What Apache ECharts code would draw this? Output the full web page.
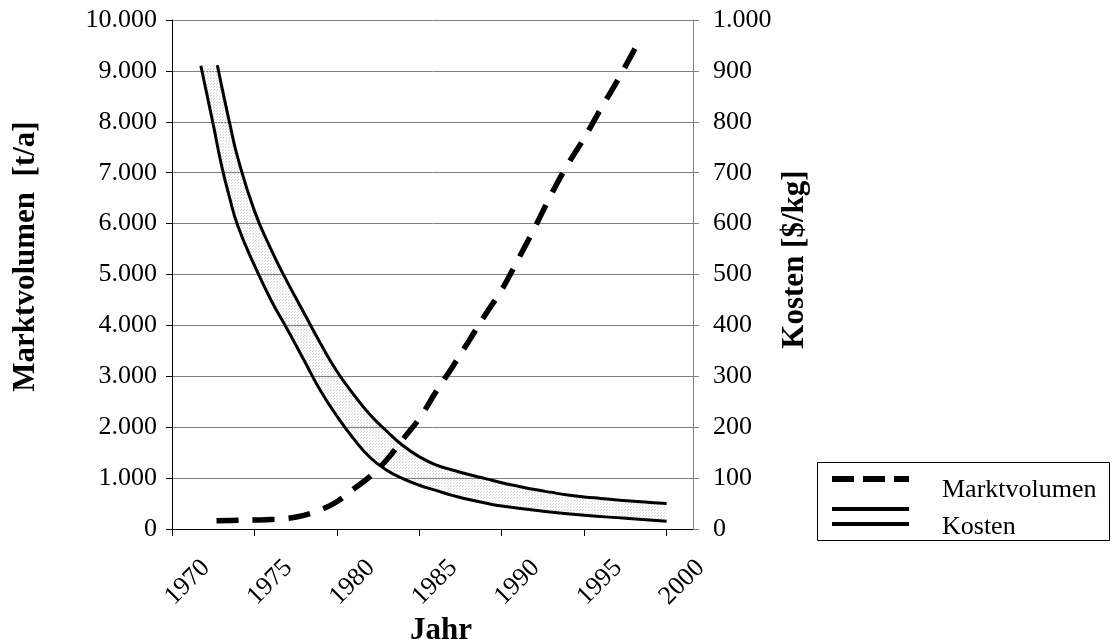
<!DOCTYPE html>
<html><head><meta charset="utf-8">
<script src="https://cdn.jsdelivr.net/npm/echarts@6/dist/echarts.min.js"></script>
<style>html,body{margin:0;padding:0;background:#fff}#c{width:1113px;height:643px}</style>
</head><body><div id="c"></div>
<script>
// ---- data ----
const xTicks = [1970, 1975, 1980, 1985, 1990, 1995, 2000];
const marktvolumen = [[1972.7,160],[1974,170],[1975,177],[1976,186],[1977,208],[1978,268],[1979,375],[1980,536],[1981,780],[1982,1030],[1983,1350],[1984,1760],[1985,2170],[1986,2690],[1987,3180],[1988,3690],[1989,4210],[1990,4700],[1991,5300],[1992,5920],[1993,6570],[1994,7160],[1995,7680],[1996,8250],[1997,8800],[1998,9390],[1998.45,9665]];
const kostenUnten = [[1971.75,910],[1972.5,795],[1973,715],[1973.5,650],[1974,595],[1975,518],[1976,450],[1977,392],[1978,332],[1979,272],[1980,222],[1981,178],[1982,141],[1983,116],[1984,99],[1985,86],[1986,76],[1987,66],[1988,58],[1989,51],[1990,45],[1992.5,35],[1995,27],[1997.5,21],[2000,15]];
const kostenOben = [[1972.75,911],[1973,872],[1973.5,797],[1974,728],[1975,625],[1976,550],[1977,485],[1978,425],[1979,365],[1980,310],[1981,265],[1982,225],[1983,193],[1984,164],[1985,142],[1986,126],[1987,116],[1988,107],[1989,99],[1990,91],[1991,84],[1992,77.5],[1993,72],[1994,67],[1995,63],[1996,60],[1997,57],[1998,54.5],[1999,52],[2000,50]];
const leftTitle = 'Marktvolumen  [t/a]';
const rightTitle = 'Kosten [$/kg]';
const xTitle = 'Jahr';

const FONT = "'Liberation Serif','Times New Roman',serif";
function fmtThousands(v){ return String(v).replace(/\B(?=(\d{3})+(?!\d))/g, '.'); }

// light dotted pattern for the cost band
const pc = document.createElement('canvas'); pc.width = 3; pc.height = 3;
const g = pc.getContext('2d'); g.fillStyle = '#d6d6d6'; g.fillRect(0,0,1,1); g.fillRect(1,2,1,1);
const bandFill = { image: pc, repeat: 'repeat' };

const chart = echarts.init(document.getElementById('c'), null, {renderer: 'canvas'});
chart.setOption({
  animation: false,
  backgroundColor: '#fff',
  grid: { left: 172, right: 420, top: 20, bottom: 114, containLabel: false, outerBoundsMode: 'none' },
  graphic: [{
    type: 'rect', z: 0, silent: true,
    shape: { x: 817.5, y: 462.5, width: 292, height: 78 },
    style: { fill: 'none', stroke: '#000', lineWidth: 1 }
  }],
  xAxis: {
    type: 'value', min: 1970, max: 2001.6, interval: 5,
    name: xTitle, nameLocation: 'middle', nameGap: 102, nameMoveOverlap: false,
    nameTextStyle: { fontFamily: FONT, fontSize: 31, fontWeight: 'bold', color: '#000', verticalAlign: 'middle', padding: [0,0,0,17] },
    axisLine: { show: true, lineStyle: { color: '#000', width: 1 } },
    axisTick: { show: true, length: 7, lineStyle: { color: '#000' }, customValues: xTicks },
    axisLabel: { show: true, rotate: 45, customValues: xTicks, formatter: v => String(v),
      fontFamily: FONT, fontSize: 26, color: '#000', margin: 1, verticalAlign: 'top', lineHeight: 96, hideOverlap: false },
    splitLine: { show: false }
  },
  yAxis: [{
    type: 'value', min: 0, max: 10000, interval: 1000, position: 'left',
    name: leftTitle, nameLocation: 'middle', nameGap: 146, nameRotate: 90, nameMoveOverlap: false,
    nameTextStyle: { fontFamily: FONT, fontSize: 31, fontWeight: 'bold', color: '#000', verticalAlign: 'middle', padding: [0,0,0,36] },
    axisLine: { show: true, lineStyle: { color: '#000', width: 1 } },
    axisTick: { show: true, length: 6, lineStyle: { color: '#000' } },
    axisLabel: { formatter: fmtThousands, fontFamily: FONT, fontSize: 26, color: '#000', margin: 15 },
    splitLine: { show: true, lineStyle: { color: '#808080', width: 1 } }
  }, {
    type: 'value', min: 0, max: 1000, interval: 100, position: 'right',
    name: rightTitle, nameLocation: 'middle', nameGap: 102, nameRotate: 90, nameMoveOverlap: false,
    nameTextStyle: { fontFamily: FONT, fontSize: 31, fontWeight: 'bold', color: '#000', verticalAlign: 'middle', padding: [0,0,0,30] },
    axisLine: { show: true, lineStyle: { color: '#808080', width: 1 } },
    axisTick: { show: true, length: 6, lineStyle: { color: '#808080' } },
    axisLabel: { formatter: fmtThousands, fontFamily: FONT, fontSize: 26, color: '#000', margin: 20 },
    splitLine: { show: false }
  }],
  legend: {
    orient: 'vertical', left: 832, top: 469.5, z: 10,
    padding: 0, borderWidth: 0,
    itemWidth: 77, itemHeight: 41, itemGap: -3.5,
    textStyle: { fontFamily: FONT, fontSize: 26, color: '#000', padding: [0, 0, 0, 28] },
    itemStyle: { color: '#000', borderWidth: 0 },
    data: [
      { name: 'Marktvolumen', icon: 'path://M0,0h77M0,6.5h22v6h-22zM31,6.5h22v6h-22zM62,6.5h15v6h-15zM0,41h77' },
      { name: 'Kosten', icon: 'path://M0,0h77v4h-77zM0,15h77v4h-77zM0,41h77' }
    ]
  },
  series: [
    {
      type: 'custom', name: 'band', xAxisIndex: 0, yAxisIndex: 1, silent: true, z: 1,
      data: [kostenOben[0]],
      renderItem: function (params, api) {
        const pts = kostenOben.map(p => api.coord(p)).concat(kostenUnten.slice().reverse().map(p => api.coord(p)));
        return { type: 'polygon', shape: { points: pts }, style: { fill: bandFill, stroke: null } };
      }
    },
    {
      type: 'line', name: 'Kosten', xAxisIndex: 0, yAxisIndex: 1, data: kostenUnten,
      smooth: 0.5, showSymbol: false, symbol: 'none', z: 3, color: '#000',
      lineStyle: { color: '#000', width: 3 }
    },
    {
      type: 'line', name: 'Kosten', xAxisIndex: 0, yAxisIndex: 1, data: kostenOben,
      smooth: 0.5, showSymbol: false, symbol: 'none', z: 3, color: '#000',
      lineStyle: { color: '#000', width: 3 }
    },
    {
      type: 'line', name: 'Marktvolumen', xAxisIndex: 0, yAxisIndex: 0, data: marktvolumen,
      smooth: 0.4, showSymbol: false, symbol: 'none', z: 4, color: '#000',
      lineStyle: { color: '#000', width: 5.5, type: [22, 14], cap: 'butt' }
    }
  ]
});
</script>
</body></html>
